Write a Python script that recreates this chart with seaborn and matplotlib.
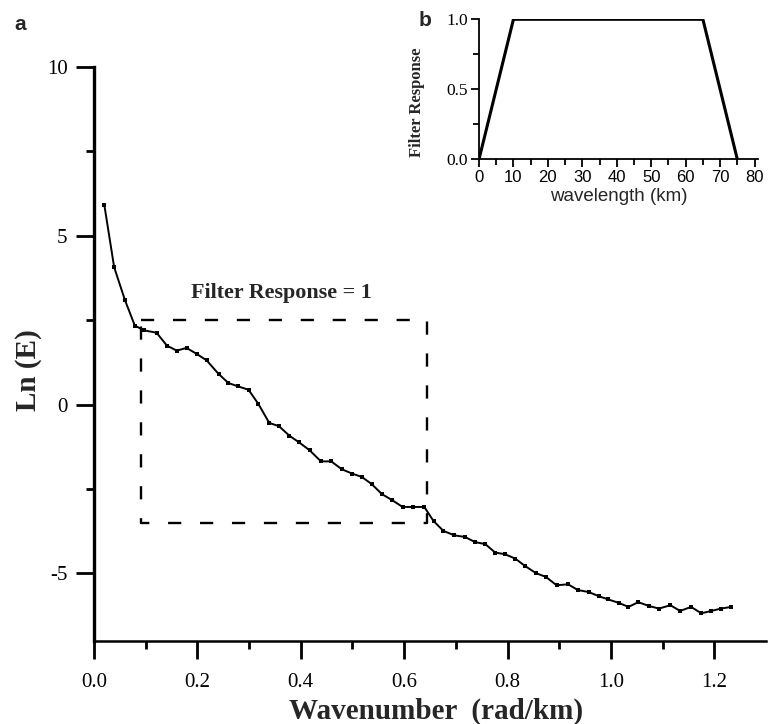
import matplotlib
matplotlib.use("Agg")
import matplotlib.pyplot as plt
import seaborn as sns
import pandas as pd

# ---- data ----
wavenumber = [0.020, 0.039, 0.060, 0.079, 0.097, 0.121, 0.141, 0.160, 0.179, 0.199,
              0.218, 0.241, 0.260, 0.279, 0.299, 0.318, 0.339, 0.358, 0.378, 0.397,
              0.417, 0.439, 0.459, 0.479, 0.499, 0.518, 0.537, 0.557, 0.577, 0.597,
              0.618, 0.639, 0.657, 0.676, 0.697, 0.718, 0.737, 0.757, 0.776, 0.795,
              0.815, 0.834, 0.855, 0.874, 0.895, 0.917, 0.936, 0.957, 0.976, 0.995,
              1.015, 1.034, 1.053, 1.073, 1.093, 1.115, 1.134, 1.155, 1.175, 1.194,
              1.213, 1.233]
ln_energy = [5.91, 4.07, 3.09, 2.34, 2.20, 2.13, 1.75, 1.60, 1.68, 1.50,
             1.31, 0.91, 0.64, 0.54, 0.44, 0.02, -0.54, -0.64, -0.92, -1.12,
             -1.35, -1.68, -1.68, -1.91, -2.04, -2.14, -2.35, -2.65, -2.83, -3.03,
             -3.03, -3.03, -3.45, -3.74, -3.87, -3.92, -4.07, -4.13, -4.38, -4.43,
             -4.56, -4.78, -4.99, -5.10, -5.35, -5.32, -5.49, -5.55, -5.67, -5.77,
             -5.87, -5.99, -5.85, -5.96, -6.04, -5.94, -6.11, -5.99, -6.18, -6.11,
             -6.04, -5.99]

box_k = [0.09, 0.645]
box_ln = [-3.5, 2.5]

filter_wavelength = [0, 10, 65, 75]
filter_response = [0.0, 1.0, 1.0, 0.0]

main_xticks = [0.0, 0.2, 0.4, 0.6, 0.8, 1.0, 1.2]
main_yticks = [-5, 0, 5, 10]
inset_xticks = [0, 10, 20, 30, 40, 50, 60, 70, 80]
inset_yticks = [0.0, 0.5, 1.0]

# ---- style ----
sns.set_style("ticks")
plt.rcParams["font.family"] = ["Liberation Serif", "DejaVu Serif"]
plt.rcParams["lines.scale_dashes"] = False

SERIF = ["Liberation Serif", "DejaVu Serif"]
SANS = ["Liberation Sans", "DejaVu Sans"]

fig = plt.figure(figsize=(7.68, 7.24), dpi=100)

# ---- main axes ----
ax = fig.add_axes([94 / 768, 1 - 641 / 724, 672 / 768, 574 / 724])
df = pd.DataFrame({"k": wavenumber, "lnE": ln_energy})
sns.lineplot(data=df, x="k", y="lnE", ax=ax, color="black", linewidth=1.4,
             marker="s", markersize=2.6, markeredgewidth=0, estimator=None,
             sort=False)

# dashed box
bx = [box_k[0], box_k[1], box_k[1], box_k[0], box_k[0]]
by = [box_ln[1], box_ln[1], box_ln[0], box_ln[0], box_ln[1]]
ax.plot(bx, by, color="black", linewidth=1.7, linestyle=(0, (9.5, 13.5)))
ax.text((box_k[0] + box_k[1]) / 2 - 0.005, 3.32, "Filter Response = 1",
        ha="center", va="center", fontsize=15.8, fontweight="bold", family=SERIF)

ax.set_xlim(0, 1.3)
ax.set_ylim(-7, 10)
ax.set_xticks(main_xticks)
ax.set_xticklabels([f"{v:.1f}" for v in main_xticks], family=SERIF, fontsize=15)
ax.set_xticks([0.1, 0.3, 0.5, 0.7, 0.9, 1.1], minor=True)
ax.set_yticks(main_yticks)
ax.set_yticklabels([str(v) for v in main_yticks], family=SERIF, fontsize=15)
ax.set_yticks([-2.5, 2.5, 7.5], minor=True)
ax.tick_params(axis="both", which="major", direction="out", length=13, width=2,
               colors="black", pad=6)
ax.tick_params(axis="both", which="minor", direction="out", length=6, width=2,
               colors="black")
ax.tick_params(axis="x", which="major", pad=10)
ax.set_xlabel("")
ax.set_ylabel("")
for s in ["top", "right"]:
    ax.spines[s].set_visible(False)
ax.spines["left"].set_linewidth(2.4)
ax.spines["bottom"].set_linewidth(1.8)
ax.spines["left"].set_color("black")
ax.spines["bottom"].set_color("black")
ax.patch.set_alpha(0)

fig.text(436 / 768, 1 - 711 / 724, "Wavenumber  (rad/km)", ha="center",
         va="center", fontsize=21, fontweight="bold", family=SERIF)
fig.text(28 / 768, 1 - 370 / 724, "Ln (E)", ha="center", va="center",
         rotation=90, fontsize=21, fontweight="bold", family=SERIF)
fig.text(20 / 768, 1 - 24 / 724, "a", ha="center", va="center", fontsize=15,
         fontweight="bold", family=SANS)

# ---- inset ----
axi = fig.add_axes([479 / 768, 1 - 159.3 / 724, 279 / 768, 140 / 724])
dfi = pd.DataFrame({"wl": filter_wavelength, "resp": filter_response})
sns.lineplot(data=dfi, x="wl", y="resp", ax=axi, color="black", linewidth=2.2,
             estimator=None, sort=False)
axi.set_xlim(0, 81)
axi.set_ylim(0, 1.0)
axi.set_xticks(inset_xticks)
axi.set_xticklabels([str(v) for v in inset_xticks], family=SANS, fontsize=12)
axi.set_xticks([5, 15, 25, 35, 45, 55, 65, 75], minor=True)
axi.set_yticks(inset_yticks)
axi.set_yticklabels([f"{v:.1f}" for v in inset_yticks], family=SERIF, fontsize=12.5)
axi.set_yticks([0.25, 0.75], minor=True)
axi.tick_params(axis="both", which="major", direction="out", length=6, width=1.3,
                colors="black", pad=2)
axi.tick_params(axis="both", which="minor", direction="out", length=4, width=1.3,
                colors="black")
axi.set_xlabel("wavelength (km)", family=SANS, fontsize=13.5, labelpad=2)
axi.set_ylabel("Filter Response", family=SERIF, fontsize=12,
               fontweight="bold")
axi.yaxis.set_label_coords(-0.195, 0.41)
for s in ["top", "right"]:
    axi.spines[s].set_visible(False)
axi.spines["left"].set_linewidth(1.3)
axi.spines["bottom"].set_linewidth(1.3)
axi.spines["left"].set_color("black")
axi.spines["bottom"].set_color("black")
axi.patch.set_alpha(0)
fig.text(425 / 768, 1 - 20 / 724, "b", ha="center", va="center", fontsize=15,
         fontweight="bold", family=SANS)

fig.savefig("out.png", dpi=100)
